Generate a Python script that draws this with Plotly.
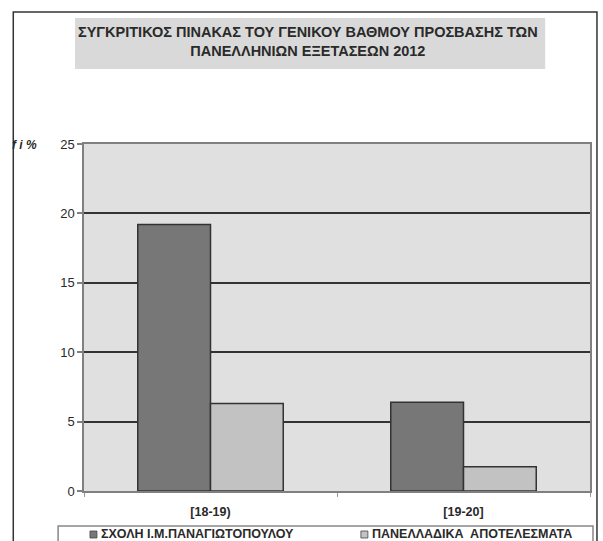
import plotly.graph_objects as go

categories = ["[18-19)", "[19-20]"]
school_values = [19.2, 6.4]
national_values = [6.3, 1.75]
series_names = ["ΣΧΟΛΗ Ι.Μ.ΠΑΝΑΓΙΩΤΟΠΟΥΛΟΥ", "ΠΑΝΕΛΛΑΔΙΚΑ  ΑΠΟΤΕΛΕΣΜΑΤΑ"]
y_ticks = [0, 5, 10, 15, 20, 25]
title_lines = ["ΣΥΓΚΡΙΤΙΚΟΣ ΠΙΝΑΚΑΣ ΤΟΥ ΓΕΝΙΚΟΥ ΒΑΘΜΟΥ ΠΡΟΣΒΑΣΗΣ ΤΩΝ",
               "ΠΑΝΕΛΛΗΝΙΩΝ ΕΞΕΤΑΣΕΩΝ 2012"]
y_label = "f i %"

W, H = 603, 541
L, R, T, B = 84, 592, 144, 491
PW, PH = R - L, B - T

def px(x):
    return (x - L) / PW

def py(y):
    return (B - y) / PH

dark, light = "#777777", "#c2c2c2"
font = "Liberation Sans, Arial, sans-serif"
txt = "#2a2a2a"

fig = go.Figure()
fig.add_trace(go.Bar(x=categories, y=school_values, name=series_names[0],
                     marker=dict(color=dark, line=dict(color="#333333", width=1.5))))
fig.add_trace(go.Bar(x=categories, y=national_values, name=series_names[1],
                     marker=dict(color=light, line=dict(color="#333333", width=1.5))))

shapes = []
annotations = []
# outer frame
shapes.append(dict(type="rect", xref="paper", yref="paper",
                   x0=px(13), x1=px(599), y0=py(560), y1=py(12),
                   line=dict(color="#333333", width=1.5), fillcolor="rgba(0,0,0,0)", layer="below"))
# title box
shapes.append(dict(type="rect", xref="paper", yref="paper",
                   x0=px(75), x1=px(547), y0=py(69), y1=py(18),
                   line=dict(width=0), fillcolor="#d9d9d9", layer="below"))
annotations.append(dict(xref="paper", yref="paper", x=px(309), y=py(42),
                        text="<b>" + "<br>".join(title_lines) + "</b>", showarrow=False,
                        xanchor="center", yanchor="middle",
                        font=dict(family=font, size=14.5, color=txt)))
# y label
annotations.append(dict(xref="paper", yref="paper", x=px(10), y=py(145),
                        text="<b><i>" + y_label + "</i></b>", showarrow=False,
                        xanchor="left", yanchor="middle",
                        font=dict(family=font, size=12, color=txt)))
# legend box
shapes.append(dict(type="rect", xref="paper", yref="paper",
                   x0=px(58), x1=px(595), y0=py(560), y1=py(526),
                   line=dict(color="#888888", width=1.5), fillcolor="rgba(0,0,0,0)", layer="below"))
# legend items
for sx, color, name in [(90, dark, series_names[0]), (362, light, series_names[1])]:
    shapes.append(dict(type="rect", xref="paper", yref="paper",
                       x0=px(sx), x1=px(sx + 7), y0=py(538), y1=py(531),
                       line=dict(color="#444444", width=0.8), fillcolor=color))
    annotations.append(dict(xref="paper", yref="paper", x=px(sx + 9), y=py(533.5),
                            text="<b>" + name + "</b>", showarrow=False,
                            xanchor="left", yanchor="middle",
                            font=dict(family=font, size=12.5, color=txt)))

fig.update_layout(
    width=W, height=H,
    margin=dict(l=L, r=W - R, t=T, b=H - B, pad=0),
    paper_bgcolor="white", plot_bgcolor="#e0e0e0",
    barmode="group", bargap=0.425, bargroupgap=0,
    showlegend=False,
    shapes=shapes, annotations=annotations,
    font=dict(family=font, size=12, color=txt),
)
fig.update_yaxes(range=[0, 25], tickvals=y_ticks, showgrid=True,
                 gridcolor="#333333", gridwidth=2,
                 showline=True, linecolor="#808080", linewidth=1.5, mirror=True,
                 ticks="outside", ticklen=5, tickcolor="#808080", tickwidth=1.5,
                 tickfont=dict(family=font, size=13, color=txt),
                 tickprefix="<b>", ticksuffix="</b>",
                 zeroline=False, fixedrange=True)
fig.update_xaxes(type="category", range=[-0.5, 1.5], showgrid=False,
                 showline=True, linecolor="#808080", linewidth=1.5, mirror=True,
                 ticks="outside", tickson="boundaries", ticklen=4,
                 tickcolor="#999999", tickwidth=1, ticklabelstandoff=8,
                 tickfont=dict(family=font, size=12.5, color=txt),
                 tickprefix="<b>", ticksuffix="</b>",
                 fixedrange=True)

fig.write_html("out.html", config=dict(displayModeBar=False),
               post_script="document.body.style.margin='0';document.body.style.overflow='hidden';")
